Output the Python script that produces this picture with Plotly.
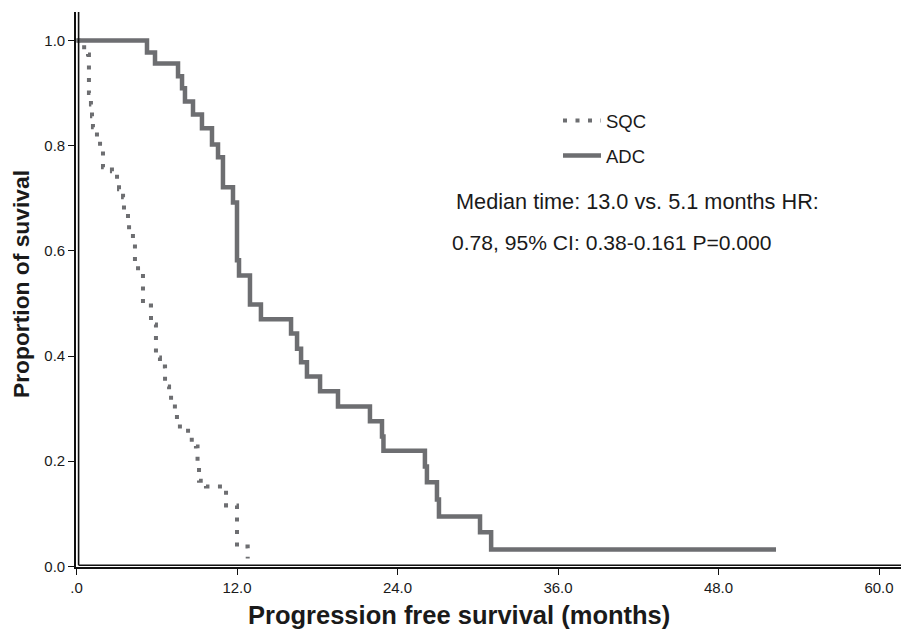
import plotly.graph_objects as go

# ---------------- data ----------------
adc_time = [0, 5.27, 5.87, 7.59, 7.89, 8.11, 8.71, 9.38, 10.13, 10.58, 10.95, 11.70, 12.0, 12.15,
            12.97, 13.79, 16.04, 16.49, 16.79, 17.23, 18.21, 19.55, 21.94, 22.84, 22.95, 26.05,
            26.2, 26.95, 27.1, 30.17, 31.0, 52.3]
adc_surv = [1.0, 0.977, 0.956, 0.932, 0.909, 0.884, 0.859, 0.833, 0.802, 0.778, 0.721, 0.692, 0.582, 0.553,
            0.498, 0.47, 0.443, 0.414, 0.388, 0.361, 0.333, 0.304, 0.276, 0.247, 0.22, 0.19,
            0.16, 0.127, 0.095, 0.065, 0.032, 0.032]

sqc_time = [0, 0.41, 0.86, 0.93, 1.08, 1.16, 1.23, 1.53, 1.76, 1.98, 2.65, 3.03, 3.18, 3.48, 3.55,
            3.85, 3.93, 4.22, 4.37, 4.6, 4.97, 5.57, 5.94, 6.24, 6.62, 6.92, 7.07, 7.51, 8.34,
            8.93, 9.05, 9.16, 9.68, 11.18, 12.0, 12.8]
sqc_surv = [1.0, 0.987, 0.973, 0.90, 0.878, 0.856, 0.835, 0.817, 0.798, 0.759, 0.751, 0.736, 0.717, 0.702, 0.675,
            0.66, 0.639, 0.622, 0.574, 0.559, 0.496, 0.46, 0.397, 0.38, 0.342, 0.325, 0.304, 0.266, 0.241,
            0.228, 0.19, 0.163, 0.152, 0.116, 0.038, 0.015]

x_tickvals = [0, 12, 24, 36, 48, 60]
x_ticktext = [".0", "12.0", "24.0", "36.0", "48.0", "60.0"]
y_tickvals = [0, 0.2, 0.4, 0.6, 0.8, 1.0]
y_ticktext = ["0.0", "0.2", "0.4", "0.6", "0.8", "1.0"]

series_names = ["SQC", "ADC"]
annot_lines = ["Median time: 13.0 vs. 5.1 months HR:",
               "0.78, 95% CI: 0.38-0.161 P=0.000"]
x_title = "Progression free survival (months)"
y_title = "Proportion of suvival"

# ---------------- layout geometry ----------------
# the page body keeps its default 8px margin, so the figure is drawn 8px in
OFF = 8
W, H = 909 - OFF, 631 - OFF
ML, MR, MT, MB = 68, 0, 4, 64
PW, PH = W - ML - MR, H - MT - MB
XS = 13.375          # px per month
YS = 526.0           # px per unit survival
X0 = 0.5             # px offset of t=0 inside plot area
x_range = [-X0 / XS, (PW - X0) / XS]
y_range = [-0.6 / YS, (PH - 0.6) / YS]

def px_x(px):   # screen pixel -> paper
    return (px - OFF - ML) / PW

def px_y(py):
    return (H - MB - (py - OFF)) / PH

GRAY = "#6d6e71"
FONT = "Liberation Sans, Arial, Helvetica, sans-serif"

fig = go.Figure()
fig.add_trace(go.Scatter(x=sqc_time, y=sqc_surv, mode="lines", name=series_names[0],
                         line=dict(shape="hv", color=GRAY, width=4, dash="4px,8.5px"),
                         legendgroup="a"))
fig.add_trace(go.Scatter(x=adc_time, y=adc_surv, mode="lines", name=series_names[1],
                         line=dict(shape="hv", color=GRAY, width=4.5),
                         legendgroup="b"))

shapes = [
    dict(type="line", xref="paper", yref="paper", x0=px_x(78.6), x1=px_x(78.6),
         y0=px_y(565.2), y1=px_y(12), line=dict(color="#111", width=1.6)),
    dict(type="line", xref="paper", yref="paper", x0=px_x(78.6), x1=1.0,
         y0=px_y(565.2), y1=px_y(565.2), line=dict(color="#111", width=1.6)),
]

annotations = [
    dict(text=annot_lines[0], xref="paper", yref="paper", x=px_x(454), y=px_y(202),
         xanchor="left", yanchor="middle", showarrow=False,
         font=dict(family=FONT, size=21.7, color="#1a1a1a")),
    dict(text=annot_lines[1], xref="paper", yref="paper", x=px_x(450), y=px_y(242),
         xanchor="left", yanchor="middle", showarrow=False,
         font=dict(family=FONT, size=21.1, color="#1a1a1a")),
    dict(text="<b>" + x_title + "</b>", xref="paper", yref="paper", x=px_x(459), y=px_y(615),
         xanchor="center", yanchor="middle", showarrow=False,
         font=dict(family=FONT, size=25.5, color="#1a1a1a")),
    dict(text="<b>" + y_title + "</b>", xref="paper", yref="paper", x=px_x(21), y=px_y(284),
         xanchor="center", yanchor="middle", showarrow=False, textangle=-90,
         font=dict(family=FONT, size=22.8, color="#1a1a1a")),
]

fig.update_layout(
    width=W, height=H,
    margin=dict(l=ML, r=MR, t=MT, b=MB, pad=0, autoexpand=False),
    paper_bgcolor="white", plot_bgcolor="white",
    font=dict(family=FONT, color="#222"),
    showlegend=True,
    legend=dict(x=px_x(558), y=px_y(102), xanchor="left", yanchor="top",
                bgcolor="rgba(0,0,0,0)", font=dict(family=FONT, size=18.5, color="#1a1a1a"),
                tracegroupgap=8, traceorder="grouped", itemwidth=38),
    shapes=shapes,
    annotations=annotations,
    xaxis=dict(range=x_range, showgrid=False, zeroline=False, showline=True, automargin=False,
               linecolor="#111", linewidth=1.6, ticks="outside", ticklen=6, tickwidth=1.4,
               tickcolor="#111", tickvals=x_tickvals, ticktext=x_ticktext,
               tickfont=dict(family=FONT, size=15, color="#1a1a1a")),
    yaxis=dict(range=y_range, showgrid=False, zeroline=False, showline=True, automargin=False,
               linecolor="#111", linewidth=1.6, ticks="outside", ticklen=6, tickwidth=1.4,
               tickcolor="#111", tickvals=y_tickvals, ticktext=y_ticktext,
               tickfont=dict(family=FONT, size=15, color="#1a1a1a")),
)

fig.write_html("out.html")
